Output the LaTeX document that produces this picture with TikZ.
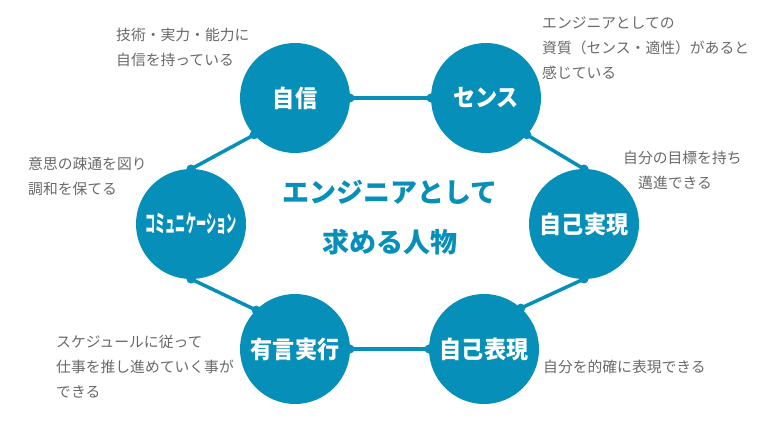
\documentclass[tikz,border=0pt]{standalone}
\usepackage{fontspec}
\newfontfamily\jp{Noto Sans CJK JP}
\definecolor{mainblue}{RGB}{6,143,184}
\definecolor{textgray}{RGB}{105,105,105}
\newcommand{\lbl}[1]{\scalebox{0.92}[1]{#1}}
\begin{document}
\begin{tikzpicture}[x=1pt,y=-1pt,
  bigcirc/.style={circle,fill=mainblue,minimum size=110pt,inner sep=0pt,outer sep=0pt,
    text=white,font=\jp\bfseries\fontsize{24}{26}\selectfont},
  link/.style={draw=mainblue,line width=3.5pt},
  enddot/.style={fill=mainblue},
  note/.style={anchor=west,align=left,inner sep=0pt,text=textgray,
    font=\jp\fontsize{14.8}{25}\selectfont},
  title/.style={text=mainblue,font=\jp\bfseries\fontsize{27}{50}\selectfont,align=center}]
\useasboundingbox (0,0) rectangle (768,422);
\node[bigcirc] (n1) at (295,98) {\lbl{自信}};
\node[bigcirc] (n2) at (486,98) {\lbl{センス}};
\node[bigcirc] (n3) at (584,224) {\lbl{自己実現}};
\node[bigcirc] (n4) at (484,349) {\lbl{自己表現}};
\node[bigcirc] (n5) at (295,349) {\lbl{有言実行}};
\node[bigcirc] (n6) at (191,224) {\scalebox{0.42}[1]{コミュニケーション}};
\draw[link] (n1.east) -- (n2.west);
\draw[link] (n2.-42) -- (n3.north);
\draw[link] (n3.south) -- (n4.48);
\draw[link] (n4.west) -- (n5.east);
\draw[link] (n5.135) -- (n6.south);
\draw[link] (n6.north) -- (n1.-138);
\foreach \p in {n1.east,n2.west,n2.-42,n3.north,n3.south,n4.48,n4.west,n5.east,n5.135,n6.south,n6.north,n1.-138}
  \fill[enddot] (\p) circle (4.5pt);
\node[title] (t) at (390,218) {エンジニアとして\\求める人物};
\node[note] (a1) at (116,47) {技術・実力・能力に\\自信を持っている};
\node[note] (a2) at (542,48) {エンジニアとしての\\資質（センス・適性）があると\\感じている};
\node[note] (a6) at (28,176) {意思の疎通を図り\\調和を保てる};
\node[note] (a3a) at (623,158) {自分の目標を持ち};
\node[note] (a3b) at (638,183) {邁進できる};
\node[note] (a5) at (56,367) {スケジュールに従って\\仕事を推し進めていく事が\\できる};
\node[note] (a4) at (543,367) {自分を的確に表現できる};
\end{tikzpicture}
\end{document}
